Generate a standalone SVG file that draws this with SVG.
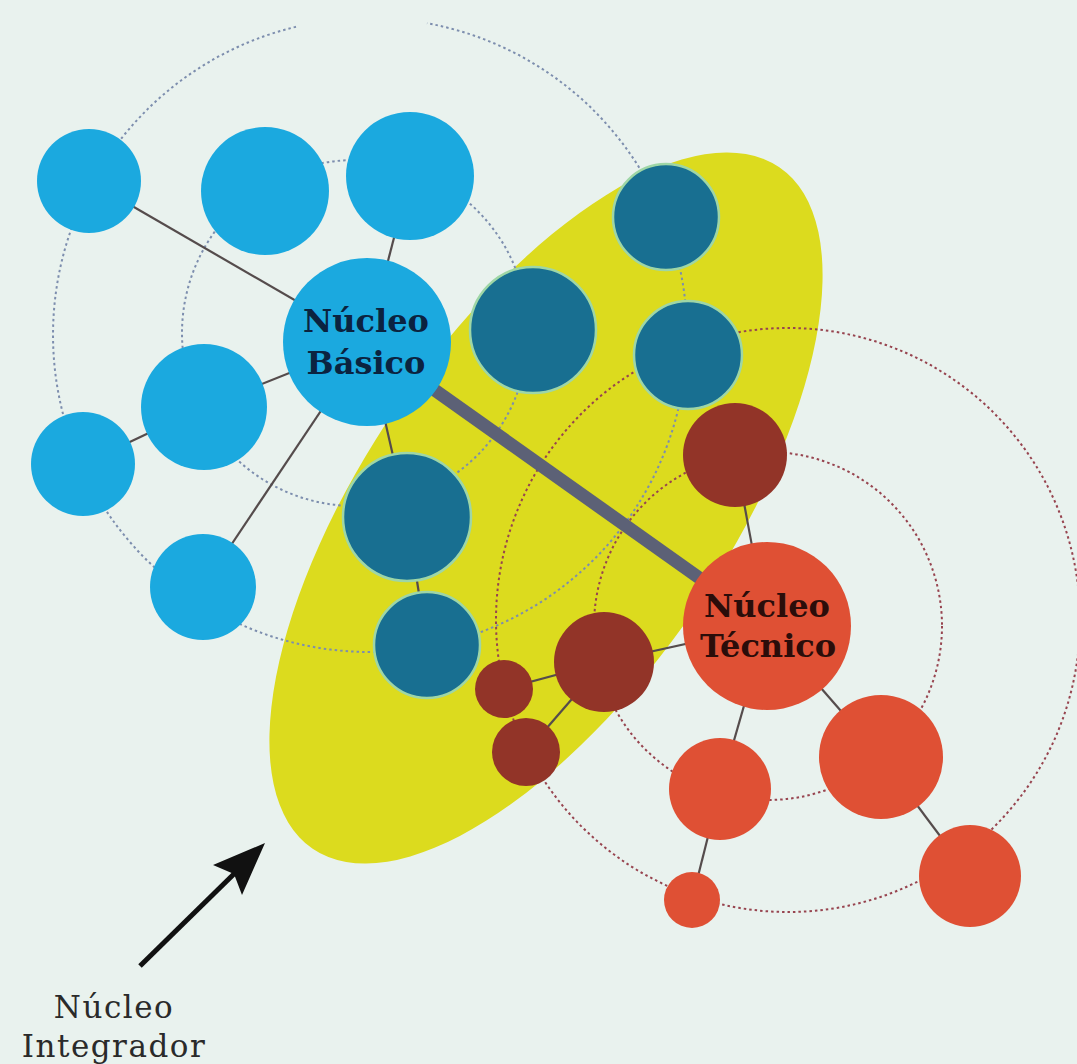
<svg xmlns="http://www.w3.org/2000/svg" width="1077" height="1064" viewBox="0 0 1077 1064">
<defs>
<style>
.bg{fill:#e9f2ee}
.blue{fill:#1ba9df}
.teal{fill:#186f91;stroke:#9ed6a6;stroke-width:2.5}
.dred{fill:#923428}
.red{fill:#df5034}
.ringb{fill:none;stroke:#7d8eae;stroke-width:2;stroke-dasharray:2.5 3}
.ringr{fill:none;stroke:#97444f;stroke-width:2;stroke-dasharray:2.5 3}
.thin{stroke:#554c4c;stroke-width:2.2;fill:none}
.thick{stroke:#5c6176;stroke-width:13;fill:none}
.lbl{font-family:"DejaVu Serif","Liberation Serif",serif;font-weight:bold;font-size:32px;text-anchor:middle}
.cap{font-family:"DejaVu Serif","Liberation Serif",serif;font-size:31px;letter-spacing:1.5px;text-anchor:middle;fill:#2a2a2a}
</style>
</defs>
<rect class="bg" x="0" y="0" width="1077" height="1064"/>
<g id="nucleo-integrador-area">
<ellipse cx="546" cy="508" rx="413" ry="180" transform="rotate(-55.6 546 508)" fill="#dcdb1e"/>
</g>
<g id="rings">
<path class="ringb" d="M 296 26.8 A 317 317 0 1 0 427 23.2"/>
<circle class="ringb" cx="355" cy="333" r="173"/>
<circle class="ringr" cx="788" cy="620" r="292"/>
<circle class="ringr" cx="768" cy="626" r="174"/>
</g>
<g id="connectors">
<line class="thick" x1="367" y1="342" x2="767" y2="626"/>
<line class="thin" x1="89" y1="181" x2="367" y2="342"/>
<line class="thin" x1="410" y1="176" x2="367" y2="342"/>
<line class="thin" x1="204" y1="407" x2="367" y2="342"/>
<line class="thin" x1="83" y1="464" x2="204" y2="407"/>
<line class="thin" x1="203" y1="587" x2="367" y2="342"/>
<line class="thin" x1="367" y1="342" x2="407" y2="517"/>
<line class="thin" x1="407" y1="517" x2="427" y2="645"/>
<line class="thin" x1="735" y1="455" x2="767" y2="626"/>
<line class="thin" x1="767" y1="626" x2="604" y2="662"/>
<line class="thin" x1="604" y1="662" x2="504" y2="689"/>
<line class="thin" x1="604" y1="662" x2="526" y2="752"/>
<line class="thin" x1="767" y1="626" x2="720" y2="789"/>
<line class="thin" x1="767" y1="626" x2="881" y2="757"/>
<line class="thin" x1="720" y1="789" x2="692" y2="900"/>
<line class="thin" x1="881" y1="757" x2="970" y2="876"/>
</g>
<g id="b1"><circle class="blue" cx="89" cy="181" r="52"/></g>
<g id="b2"><circle class="blue" cx="265" cy="191" r="64"/></g>
<g id="b3"><circle class="blue" cx="410" cy="176" r="64"/></g>
<g id="b5"><circle class="blue" cx="204" cy="407" r="63"/></g>
<g id="b6"><circle class="blue" cx="83" cy="464" r="52"/></g>
<g id="b7"><circle class="blue" cx="203" cy="587" r="53"/></g>
<g id="t8"><circle class="teal" cx="666" cy="217" r="53"/></g>
<g id="t9"><circle class="teal" cx="533" cy="330" r="63"/></g>
<g id="t10"><circle class="teal" cx="688" cy="355" r="54"/></g>
<g id="t11"><circle class="teal" cx="407" cy="517" r="64"/></g>
<g id="t12"><circle class="teal" cx="427" cy="645" r="53"/></g>
<g id="d13"><circle class="dred" cx="735" cy="455" r="52"/></g>
<g id="d14"><circle class="dred" cx="604" cy="662" r="50"/></g>
<g id="d15"><circle class="dred" cx="504" cy="689" r="29"/></g>
<g id="d16"><circle class="dred" cx="526" cy="752" r="34"/></g>
<g id="r18"><circle class="red" cx="720" cy="789" r="51"/></g>
<g id="r19"><circle class="red" cx="881" cy="757" r="62"/></g>
<g id="r20"><circle class="red" cx="970" cy="876" r="51"/></g>
<g id="r21"><circle class="red" cx="692" cy="900" r="28"/></g>
<g id="nucleo-basico">
<circle class="blue" cx="367" cy="342" r="84"/>
<text class="lbl" fill="#0b2340"><tspan x="366" y="332">Núcleo</tspan><tspan x="366" y="374">Básico</tspan></text>
</g>
<g id="nucleo-tecnico">
<circle class="red" cx="767" cy="626" r="84"/>
<text class="lbl" fill="#2b0d0a"><tspan x="767" y="617">Núcleo</tspan><tspan x="768" y="657">Técnico</tspan></text>
</g>
<g id="label-integrador">
<line x1="140" y1="966" x2="238" y2="870" stroke="#111" stroke-width="5"/>
<polygon points="265,843 213,865 234,874 242,895" fill="#111"/>
<text class="cap"><tspan x="114" y="1018">Núcleo</tspan><tspan x="114" y="1057">Integrador</tspan></text>
</g>
</svg>
